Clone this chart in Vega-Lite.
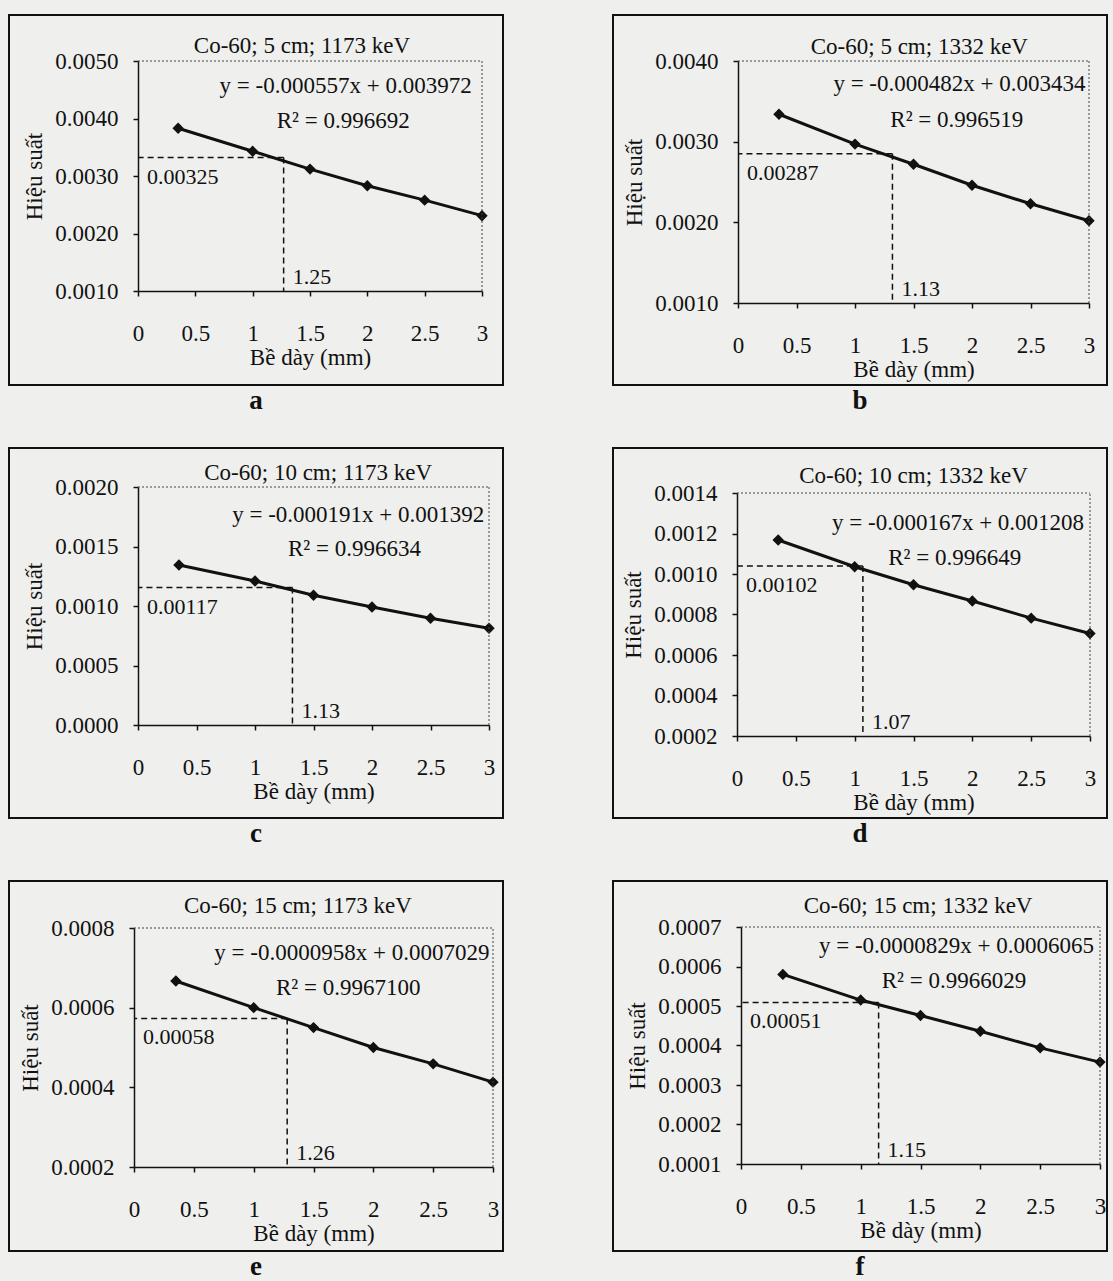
{
  "$schema": "https://vega.github.io/schema/vega-lite/v6.json",
  "background": "#efefed",
  "padding": {"left": 8, "top": 14, "right": 7, "bottom": 0},
  "config": {
    "font": "Liberation Serif",
    "view": {"stroke": "#111", "strokeWidth": 2},
    "axis": {
      "grid": false,
      "domainColor": "#111", "domainWidth": 1.5,
      "tickColor": "#111", "tickSize": 5, "tickWidth": 1.5,
      "labelFont": "Liberation Serif", "labelFontSize": 23, "labelColor": "#111", "labelOverlap": false,
      "titleFont": "Liberation Serif", "titleFontSize": 23, "titleFontWeight": "normal", "titleColor": "#111"
    },
    "axisX": {"labelPadding": 26, "titlePadding": 1, "labelFlush": false},
    "axisY": {"labelPadding": 15, "titlePadding": 8},
    "title": {"font": "Liberation Serif", "fontSize": 27, "fontWeight": "bold", "color": "#111", "orient": "bottom", "offset": 3},
    "text": {"font": "Liberation Serif", "fontSize": 23, "color": "#111"}
  },
  "datasets": {
    "pts": [
      {"panel": "a", "x": 0.35, "y": 0.00383}, {"panel": "a", "x": 1, "y": 0.00343}, {"panel": "a", "x": 1.5, "y": 0.00312},
      {"panel": "a", "x": 2, "y": 0.00283}, {"panel": "a", "x": 2.5, "y": 0.00258}, {"panel": "a", "x": 3, "y": 0.00231},
      {"panel": "b", "x": 0.35, "y": 0.00334}, {"panel": "b", "x": 1, "y": 0.00297}, {"panel": "b", "x": 1.5, "y": 0.00272},
      {"panel": "b", "x": 2, "y": 0.00246}, {"panel": "b", "x": 2.5, "y": 0.00223}, {"panel": "b", "x": 3, "y": 0.00202},
      {"panel": "c", "x": 0.35, "y": 0.001345}, {"panel": "c", "x": 1, "y": 0.00121}, {"panel": "c", "x": 1.5, "y": 0.00109},
      {"panel": "c", "x": 2, "y": 0.000992}, {"panel": "c", "x": 2.5, "y": 0.000897}, {"panel": "c", "x": 3, "y": 0.000813},
      {"panel": "d", "x": 0.35, "y": 0.001168}, {"panel": "d", "x": 1, "y": 0.001036}, {"panel": "d", "x": 1.5, "y": 0.000947},
      {"panel": "d", "x": 2, "y": 0.000867}, {"panel": "d", "x": 2.5, "y": 0.000782}, {"panel": "d", "x": 3, "y": 0.000706},
      {"panel": "e", "x": 0.35, "y": 0.000667}, {"panel": "e", "x": 1, "y": 0.0006}, {"panel": "e", "x": 1.5, "y": 0.00055},
      {"panel": "e", "x": 2, "y": 0.0005}, {"panel": "e", "x": 2.5, "y": 0.000459}, {"panel": "e", "x": 3, "y": 0.000413},
      {"panel": "f", "x": 0.35, "y": 0.00058}, {"panel": "f", "x": 1, "y": 0.000515}, {"panel": "f", "x": 1.5, "y": 0.000476},
      {"panel": "f", "x": 2, "y": 0.000436}, {"panel": "f", "x": 2.5, "y": 0.000394}, {"panel": "f", "x": 3, "y": 0.000358}
    ],
    "ann": [
      {"panel": "a", "xv": 1.27, "yh": 0.00332, "hlabel": "0.00325", "vlabel": "1.25", "title": "Co-60; 5 cm; 1173 keV", "eq": "y = -0.000557x + 0.003972", "r2": "R² = 0.996692"},
      {"panel": "b", "xv": 1.32, "yh": 0.00285, "hlabel": "0.00287", "vlabel": "1.13", "title": "Co-60; 5 cm; 1332 keV", "eq": "y = -0.000482x + 0.003434", "r2": "R² = 0.996519"},
      {"panel": "c", "xv": 1.32, "yh": 0.001155, "hlabel": "0.00117", "vlabel": "1.13", "title": "Co-60; 10 cm; 1173 keV", "eq": "y = -0.000191x + 0.001392", "r2": "R² = 0.996634"},
      {"panel": "d", "xv": 1.07, "yh": 0.00104, "hlabel": "0.00102", "vlabel": "1.07", "title": "Co-60; 10 cm; 1332 keV", "eq": "y = -0.000167x + 0.001208", "r2": "R² = 0.996649"},
      {"panel": "e", "xv": 1.28, "yh": 0.000573, "hlabel": "0.00058", "vlabel": "1.26", "title": "Co-60; 15 cm; 1173 keV", "eq": "y = -0.0000958x + 0.0007029", "r2": "R² = 0.9967100"},
      {"panel": "f", "xv": 1.15, "yh": 0.000509, "hlabel": "0.00051", "vlabel": "1.15", "title": "Co-60; 15 cm; 1332 keV", "eq": "y = -0.0000829x + 0.0006065", "r2": "R² = 0.9966029"}
    ]
  },
  "columns": 2,
  "spacing": {"row": 63, "column": 110},
  "bounds": "flush",
  "concat": [
    {
      "width": 494, "height": 370, "title": {"text": "a"},
      "layer": [
        {"data": {"name": "pts"}, "transform": [{"filter": "datum.panel === 'a'"}],
         "mark": {"type": "line", "color": "#111", "strokeWidth": 3, "point": {"shape": "diamond", "size": 130, "filled": true, "color": "#111"}},
         "encoding": {
           "x": {"field": "x", "type": "quantitative", "scale": {"domain": [0, 3], "range": [129, 473], "nice": false, "zero": false},
                 "axis": {"title": "Bề dày (mm)", "offset": -94, "values": [0, 0.5, 1, 1.5, 2, 2.5, 3], "format": "~g"}},
           "y": {"field": "y", "type": "quantitative", "scale": {"domain": [0.001, 0.005], "range": [276, 46], "nice": false, "zero": false},
                 "axis": {"title": "Hiệu suất", "offset": -129, "values": [0.001, 0.002, 0.003, 0.004, 0.005], "format": ".4f"}}
         }},
        {"data": {"name": "ann"}, "transform": [{"filter": "datum.panel === 'a'"}],
         "layer": [
           {"mark": {"type": "rule", "strokeDash": [2, 2], "strokeWidth": 1, "color": "#444"},
            "encoding": {"x": {"datum": 0, "type": "quantitative"}, "x2": {"datum": 3}, "y": {"datum": 0.005, "type": "quantitative"}}},
           {"mark": {"type": "rule", "strokeDash": [2, 2], "strokeWidth": 1, "color": "#444"},
            "encoding": {"x": {"datum": 3, "type": "quantitative"}, "y": {"datum": 0.001, "type": "quantitative"}, "y2": {"datum": 0.005}}},
           {"mark": {"type": "rule", "strokeDash": [6, 4], "strokeWidth": 1.5, "color": "#111"},
            "encoding": {"x": {"field": "xv", "type": "quantitative"}, "x2": {"datum": 0}, "y": {"field": "yh", "type": "quantitative"}}},
           {"mark": {"type": "rule", "strokeDash": [6, 4], "strokeWidth": 1.5, "color": "#111"},
            "encoding": {"x": {"field": "xv", "type": "quantitative"}, "y": {"field": "yh", "type": "quantitative"}, "y2": {"datum": 0.001}}},
           {"mark": {"type": "text", "align": "left", "baseline": "middle", "dx": 9, "dy": 19, "fontSize": 22},
            "encoding": {"x": {"datum": 0}, "y": {"field": "yh", "type": "quantitative"}, "text": {"field": "hlabel"}}},
           {"mark": {"type": "text", "align": "left", "baseline": "middle", "dx": 9, "dy": -14, "fontSize": 22},
            "encoding": {"x": {"field": "xv", "type": "quantitative"}, "y": {"datum": 0.001}, "text": {"field": "vlabel"}}},
           {"mark": {"type": "text", "align": "center", "baseline": "middle"},
            "encoding": {"x": {"datum": 1.43}, "y": {"datum": 0.005261}, "text": {"field": "title"}}},
           {"mark": {"type": "text", "align": "right", "baseline": "middle"},
            "encoding": {"x": {"datum": 2.91}, "y": {"datum": 0.004565}, "text": {"field": "eq"}}},
           {"mark": {"type": "text", "align": "center", "baseline": "middle"},
            "encoding": {"x": {"datum": 1.79}, "y": {"datum": 0.003957}, "text": {"field": "r2"}}}
         ]}
      ]
    },
    {
      "width": 494, "height": 370, "title": {"text": "b"},
      "layer": [
        {"data": {"name": "pts"}, "transform": [{"filter": "datum.panel === 'b'"}],
         "mark": {"type": "line", "color": "#111", "strokeWidth": 3, "point": {"shape": "diamond", "size": 130, "filled": true, "color": "#111"}},
         "encoding": {
           "x": {"field": "x", "type": "quantitative", "scale": {"domain": [0, 3], "range": [125, 476], "nice": false, "zero": false},
                 "axis": {"title": "Bề dày (mm)", "offset": -82, "values": [0, 0.5, 1, 1.5, 2, 2.5, 3], "format": "~g"}},
           "y": {"field": "y", "type": "quantitative", "scale": {"domain": [0.001, 0.004], "range": [288, 46], "nice": false, "zero": false},
                 "axis": {"title": "Hiệu suất", "offset": -125, "values": [0.001, 0.002, 0.003, 0.004], "format": ".4f"}}
         }},
        {"data": {"name": "ann"}, "transform": [{"filter": "datum.panel === 'b'"}],
         "layer": [
           {"mark": {"type": "rule", "strokeDash": [2, 2], "strokeWidth": 1, "color": "#444"},
            "encoding": {"x": {"datum": 0, "type": "quantitative"}, "x2": {"datum": 3}, "y": {"datum": 0.004, "type": "quantitative"}}},
           {"mark": {"type": "rule", "strokeDash": [2, 2], "strokeWidth": 1, "color": "#444"},
            "encoding": {"x": {"datum": 3, "type": "quantitative"}, "y": {"datum": 0.001, "type": "quantitative"}, "y2": {"datum": 0.004}}},
           {"mark": {"type": "rule", "strokeDash": [6, 4], "strokeWidth": 1.5, "color": "#111"},
            "encoding": {"x": {"field": "xv", "type": "quantitative"}, "x2": {"datum": 0}, "y": {"field": "yh", "type": "quantitative"}}},
           {"mark": {"type": "rule", "strokeDash": [6, 4], "strokeWidth": 1.5, "color": "#111"},
            "encoding": {"x": {"field": "xv", "type": "quantitative"}, "y": {"field": "yh", "type": "quantitative"}, "y2": {"datum": 0.001}}},
           {"mark": {"type": "text", "align": "left", "baseline": "middle", "dx": 9, "dy": 19, "fontSize": 22},
            "encoding": {"x": {"datum": 0}, "y": {"field": "yh", "type": "quantitative"}, "text": {"field": "hlabel"}}},
           {"mark": {"type": "text", "align": "left", "baseline": "middle", "dx": 9, "dy": -14, "fontSize": 22},
            "encoding": {"x": {"field": "xv", "type": "quantitative"}, "y": {"datum": 0.001}, "text": {"field": "vlabel"}}},
           {"mark": {"type": "text", "align": "center", "baseline": "middle"},
            "encoding": {"x": {"datum": 1.55}, "y": {"datum": 0.004174}, "text": {"field": "title"}}},
           {"mark": {"type": "text", "align": "right", "baseline": "middle"},
            "encoding": {"x": {"datum": 2.97}, "y": {"datum": 0.003715}, "text": {"field": "eq"}}},
           {"mark": {"type": "text", "align": "center", "baseline": "middle"},
            "encoding": {"x": {"datum": 1.87}, "y": {"datum": 0.003269}, "text": {"field": "r2"}}}
         ]}
      ]
    },
    {
      "width": 494, "height": 370, "title": {"text": "c"},
      "layer": [
        {"data": {"name": "pts"}, "transform": [{"filter": "datum.panel === 'c'"}],
         "mark": {"type": "line", "color": "#111", "strokeWidth": 3, "point": {"shape": "diamond", "size": 130, "filled": true, "color": "#111"}},
         "encoding": {
           "x": {"field": "x", "type": "quantitative", "scale": {"domain": [0, 3], "range": [129, 480], "nice": false, "zero": false},
                 "axis": {"title": "Bề dày (mm)", "offset": -93, "values": [0, 0.5, 1, 1.5, 2, 2.5, 3], "format": "~g"}},
           "y": {"field": "y", "type": "quantitative", "scale": {"domain": [0, 0.002], "range": [277, 39], "nice": false, "zero": false},
                 "axis": {"title": "Hiệu suất", "offset": -129, "values": [0, 0.0005, 0.001, 0.0015, 0.002], "format": ".4f"}}
         }},
        {"data": {"name": "ann"}, "transform": [{"filter": "datum.panel === 'c'"}],
         "layer": [
           {"mark": {"type": "rule", "strokeDash": [2, 2], "strokeWidth": 1, "color": "#444"},
            "encoding": {"x": {"datum": 0, "type": "quantitative"}, "x2": {"datum": 3}, "y": {"datum": 0.002, "type": "quantitative"}}},
           {"mark": {"type": "rule", "strokeDash": [2, 2], "strokeWidth": 1, "color": "#444"},
            "encoding": {"x": {"datum": 3, "type": "quantitative"}, "y": {"datum": 0, "type": "quantitative"}, "y2": {"datum": 0.002}}},
           {"mark": {"type": "rule", "strokeDash": [6, 4], "strokeWidth": 1.5, "color": "#111"},
            "encoding": {"x": {"field": "xv", "type": "quantitative"}, "x2": {"datum": 0}, "y": {"field": "yh", "type": "quantitative"}}},
           {"mark": {"type": "rule", "strokeDash": [6, 4], "strokeWidth": 1.5, "color": "#111"},
            "encoding": {"x": {"field": "xv", "type": "quantitative"}, "y": {"field": "yh", "type": "quantitative"}, "y2": {"datum": 0}}},
           {"mark": {"type": "text", "align": "left", "baseline": "middle", "dx": 9, "dy": 19, "fontSize": 22},
            "encoding": {"x": {"datum": 0}, "y": {"field": "yh", "type": "quantitative"}, "text": {"field": "hlabel"}}},
           {"mark": {"type": "text", "align": "left", "baseline": "middle", "dx": 9, "dy": -14, "fontSize": 22},
            "encoding": {"x": {"field": "xv", "type": "quantitative"}, "y": {"datum": 0}, "text": {"field": "vlabel"}}},
           {"mark": {"type": "text", "align": "center", "baseline": "middle"},
            "encoding": {"x": {"datum": 1.54}, "y": {"datum": 0.002118}, "text": {"field": "title"}}},
           {"mark": {"type": "text", "align": "right", "baseline": "middle"},
            "encoding": {"x": {"datum": 2.96}, "y": {"datum": 0.001765}, "text": {"field": "eq"}}},
           {"mark": {"type": "text", "align": "center", "baseline": "middle"},
            "encoding": {"x": {"datum": 1.85}, "y": {"datum": 0.001479}, "text": {"field": "r2"}}}
         ]}
      ]
    },
    {
      "width": 494, "height": 370, "title": {"text": "d"},
      "layer": [
        {"data": {"name": "pts"}, "transform": [{"filter": "datum.panel === 'd'"}],
         "mark": {"type": "line", "color": "#111", "strokeWidth": 3, "point": {"shape": "diamond", "size": 130, "filled": true, "color": "#111"}},
         "encoding": {
           "x": {"field": "x", "type": "quantitative", "scale": {"domain": [0, 3], "range": [124, 477], "nice": false, "zero": false},
                 "axis": {"title": "Bề dày (mm)", "offset": -82, "values": [0, 0.5, 1, 1.5, 2, 2.5, 3], "format": "~g"}},
           "y": {"field": "y", "type": "quantitative", "scale": {"domain": [0.0002, 0.0014], "range": [288, 45], "nice": false, "zero": false},
                 "axis": {"title": "Hiệu suất", "offset": -124, "values": [0.0002, 0.0004, 0.0006, 0.0008, 0.001, 0.0012, 0.0014], "format": ".4f"}}
         }},
        {"data": {"name": "ann"}, "transform": [{"filter": "datum.panel === 'd'"}],
         "layer": [
           {"mark": {"type": "rule", "strokeDash": [2, 2], "strokeWidth": 1, "color": "#444"},
            "encoding": {"x": {"datum": 0, "type": "quantitative"}, "x2": {"datum": 3}, "y": {"datum": 0.0014, "type": "quantitative"}}},
           {"mark": {"type": "rule", "strokeDash": [2, 2], "strokeWidth": 1, "color": "#444"},
            "encoding": {"x": {"datum": 3, "type": "quantitative"}, "y": {"datum": 0.0002, "type": "quantitative"}, "y2": {"datum": 0.0014}}},
           {"mark": {"type": "rule", "strokeDash": [6, 4], "strokeWidth": 1.5, "color": "#111"},
            "encoding": {"x": {"field": "xv", "type": "quantitative"}, "x2": {"datum": 0}, "y": {"field": "yh", "type": "quantitative"}}},
           {"mark": {"type": "rule", "strokeDash": [6, 4], "strokeWidth": 1.5, "color": "#111"},
            "encoding": {"x": {"field": "xv", "type": "quantitative"}, "y": {"field": "yh", "type": "quantitative"}, "y2": {"datum": 0.0002}}},
           {"mark": {"type": "text", "align": "left", "baseline": "middle", "dx": 9, "dy": 19, "fontSize": 22},
            "encoding": {"x": {"datum": 0}, "y": {"field": "yh", "type": "quantitative"}, "text": {"field": "hlabel"}}},
           {"mark": {"type": "text", "align": "left", "baseline": "middle", "dx": 9, "dy": -14, "fontSize": 22},
            "encoding": {"x": {"field": "xv", "type": "quantitative"}, "y": {"datum": 0.0002}, "text": {"field": "vlabel"}}},
           {"mark": {"type": "text", "align": "center", "baseline": "middle"},
            "encoding": {"x": {"datum": 1.5}, "y": {"datum": 0.001484}, "text": {"field": "title"}}},
           {"mark": {"type": "text", "align": "right", "baseline": "middle"},
            "encoding": {"x": {"datum": 2.95}, "y": {"datum": 0.001252}, "text": {"field": "eq"}}},
           {"mark": {"type": "text", "align": "center", "baseline": "middle"},
            "encoding": {"x": {"datum": 1.85}, "y": {"datum": 0.001079}, "text": {"field": "r2"}}}
         ]}
      ]
    },
    {
      "width": 494, "height": 370, "title": {"text": "e"},
      "layer": [
        {"data": {"name": "pts"}, "transform": [{"filter": "datum.panel === 'e'"}],
         "mark": {"type": "line", "color": "#111", "strokeWidth": 3, "point": {"shape": "diamond", "size": 130, "filled": true, "color": "#111"}},
         "encoding": {
           "x": {"field": "x", "type": "quantitative", "scale": {"domain": [0, 3], "range": [125, 484], "nice": false, "zero": false},
                 "axis": {"title": "Bề dày (mm)", "offset": -84, "values": [0, 0.5, 1, 1.5, 2, 2.5, 3], "format": "~g"}},
           "y": {"field": "y", "type": "quantitative", "scale": {"domain": [0.0002, 0.0008], "range": [286, 47], "nice": false, "zero": false},
                 "axis": {"title": "Hiệu suất", "offset": -125, "values": [0.0002, 0.0004, 0.0006, 0.0008], "format": ".4f"}}
         }},
        {"data": {"name": "ann"}, "transform": [{"filter": "datum.panel === 'e'"}],
         "layer": [
           {"mark": {"type": "rule", "strokeDash": [2, 2], "strokeWidth": 1, "color": "#444"},
            "encoding": {"x": {"datum": 0, "type": "quantitative"}, "x2": {"datum": 3}, "y": {"datum": 0.0008, "type": "quantitative"}}},
           {"mark": {"type": "rule", "strokeDash": [2, 2], "strokeWidth": 1, "color": "#444"},
            "encoding": {"x": {"datum": 3, "type": "quantitative"}, "y": {"datum": 0.0002, "type": "quantitative"}, "y2": {"datum": 0.0008}}},
           {"mark": {"type": "rule", "strokeDash": [6, 4], "strokeWidth": 1.5, "color": "#111"},
            "encoding": {"x": {"field": "xv", "type": "quantitative"}, "x2": {"datum": 0}, "y": {"field": "yh", "type": "quantitative"}}},
           {"mark": {"type": "rule", "strokeDash": [6, 4], "strokeWidth": 1.5, "color": "#111"},
            "encoding": {"x": {"field": "xv", "type": "quantitative"}, "y": {"field": "yh", "type": "quantitative"}, "y2": {"datum": 0.0002}}},
           {"mark": {"type": "text", "align": "left", "baseline": "middle", "dx": 9, "dy": 19, "fontSize": 22},
            "encoding": {"x": {"datum": 0}, "y": {"field": "yh", "type": "quantitative"}, "text": {"field": "hlabel"}}},
           {"mark": {"type": "text", "align": "left", "baseline": "middle", "dx": 9, "dy": -14, "fontSize": 22},
            "encoding": {"x": {"field": "xv", "type": "quantitative"}, "y": {"datum": 0.0002}, "text": {"field": "vlabel"}}},
           {"mark": {"type": "text", "align": "center", "baseline": "middle"},
            "encoding": {"x": {"datum": 1.37}, "y": {"datum": 0.000855}, "text": {"field": "title"}}},
           {"mark": {"type": "text", "align": "right", "baseline": "middle"},
            "encoding": {"x": {"datum": 2.97}, "y": {"datum": 0.000737}, "text": {"field": "eq"}}},
           {"mark": {"type": "text", "align": "center", "baseline": "middle"},
            "encoding": {"x": {"datum": 1.79}, "y": {"datum": 0.000649}, "text": {"field": "r2"}}}
         ]}
      ]
    },
    {
      "width": 494, "height": 370, "title": {"text": "f"},
      "layer": [
        {"data": {"name": "pts"}, "transform": [{"filter": "datum.panel === 'f'"}],
         "mark": {"type": "line", "color": "#111", "strokeWidth": 3, "point": {"shape": "diamond", "size": 130, "filled": true, "color": "#111"}},
         "encoding": {
           "x": {"field": "x", "type": "quantitative", "scale": {"domain": [0, 3], "range": [128, 487], "nice": false, "zero": false},
                 "axis": {"title": "Bề dày (mm)", "offset": -87, "values": [0, 0.5, 1, 1.5, 2, 2.5, 3], "format": "~g"}},
           "y": {"field": "y", "type": "quantitative", "scale": {"domain": [0.0001, 0.0007], "range": [283, 46], "nice": false, "zero": false},
                 "axis": {"title": "Hiệu suất", "offset": -128, "values": [0.0001, 0.0002, 0.0003, 0.0004, 0.0005, 0.0006, 0.0007], "format": ".4f"}}
         }},
        {"data": {"name": "ann"}, "transform": [{"filter": "datum.panel === 'f'"}],
         "layer": [
           {"mark": {"type": "rule", "strokeDash": [2, 2], "strokeWidth": 1, "color": "#444"},
            "encoding": {"x": {"datum": 0, "type": "quantitative"}, "x2": {"datum": 3}, "y": {"datum": 0.0007, "type": "quantitative"}}},
           {"mark": {"type": "rule", "strokeDash": [2, 2], "strokeWidth": 1, "color": "#444"},
            "encoding": {"x": {"datum": 3, "type": "quantitative"}, "y": {"datum": 0.0001, "type": "quantitative"}, "y2": {"datum": 0.0007}}},
           {"mark": {"type": "rule", "strokeDash": [6, 4], "strokeWidth": 1.5, "color": "#111"},
            "encoding": {"x": {"field": "xv", "type": "quantitative"}, "x2": {"datum": 0}, "y": {"field": "yh", "type": "quantitative"}}},
           {"mark": {"type": "rule", "strokeDash": [6, 4], "strokeWidth": 1.5, "color": "#111"},
            "encoding": {"x": {"field": "xv", "type": "quantitative"}, "y": {"field": "yh", "type": "quantitative"}, "y2": {"datum": 0.0001}}},
           {"mark": {"type": "text", "align": "left", "baseline": "middle", "dx": 9, "dy": 19, "fontSize": 22},
            "encoding": {"x": {"datum": 0}, "y": {"field": "yh", "type": "quantitative"}, "text": {"field": "hlabel"}}},
           {"mark": {"type": "text", "align": "left", "baseline": "middle", "dx": 9, "dy": -14, "fontSize": 22},
            "encoding": {"x": {"field": "xv", "type": "quantitative"}, "y": {"datum": 0.0001}, "text": {"field": "vlabel"}}},
           {"mark": {"type": "text", "align": "center", "baseline": "middle"},
            "encoding": {"x": {"datum": 1.48}, "y": {"datum": 0.000753}, "text": {"field": "title"}}},
           {"mark": {"type": "text", "align": "right", "baseline": "middle"},
            "encoding": {"x": {"datum": 2.95}, "y": {"datum": 0.000652}, "text": {"field": "eq"}}},
           {"mark": {"type": "text", "align": "center", "baseline": "middle"},
            "encoding": {"x": {"datum": 1.78}, "y": {"datum": 0.000563}, "text": {"field": "r2"}}}
         ]}
      ]
    }
  ]
}
